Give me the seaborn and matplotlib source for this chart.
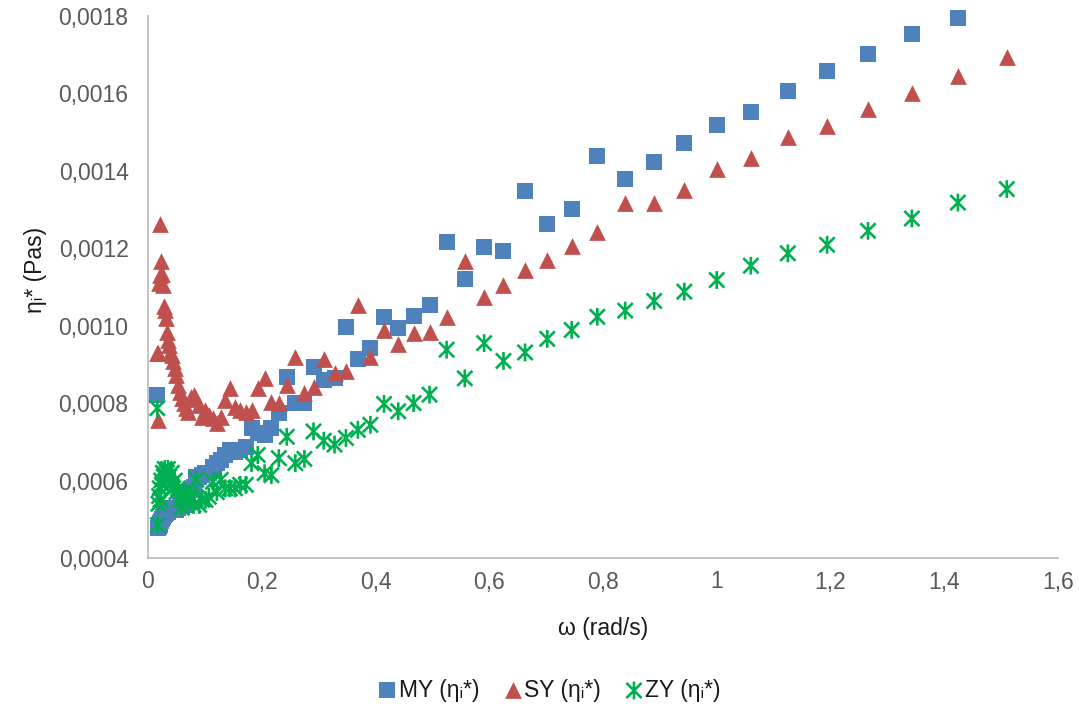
import numpy as np
import pandas as pd
import matplotlib
matplotlib.use("Agg")
import matplotlib.pyplot as plt
from matplotlib.path import Path
from matplotlib.markers import MarkerStyle
import seaborn as sns

# ---------------- data ----------------
omega = [0.0163, 0.0173, 0.0183, 0.0195, 0.0206, 0.0219, 0.0232, 0.0246, 0.0261, 0.0277,
         0.0294, 0.0312, 0.0331, 0.0351, 0.0372, 0.0395, 0.0419, 0.0444, 0.0471, 0.0500,
         0.0530, 0.0562, 0.0596, 0.0632, 0.0671, 0.0711, 0.0755, 0.0800, 0.0849, 0.0900,
         0.0955, 0.101, 0.107, 0.114, 0.121, 0.128, 0.136, 0.144, 0.153, 0.162,
         0.172, 0.182, 0.193, 0.205, 0.217, 0.230, 0.244, 0.259, 0.275, 0.291,
         0.309, 0.328, 0.348, 0.369, 0.391, 0.415, 0.440, 0.467, 0.495, 0.525,
         0.557, 0.591, 0.625, 0.663, 0.702, 0.745, 0.790, 0.839, 0.890, 0.943,
         1.000, 1.060, 1.125, 1.194, 1.266, 1.343, 1.424, 1.510]

my_eta = [0.000821, 0.000477, 0.000477, 0.000481, 0.000485, 0.000490, 0.000495, 0.000500, 0.000507, 0.000510,
          0.000514, 0.000516, 0.000518, 0.000520, 0.000524, 0.000524, 0.000526, 0.000528, 0.000524, 0.000524,
          0.000530, 0.000537, 0.000535, 0.000540, 0.000537, 0.000550, 0.000576, 0.000584, 0.000610, 0.000610,
          0.000614, 0.000619, 0.000619, 0.000636, 0.000645, 0.000653, 0.000666, 0.000679, 0.000675, 0.000679,
          0.000688, 0.000735, 0.000723, 0.000718, 0.000735, 0.000774, 0.000868, 0.000800, 0.000800, 0.000894,
          0.000860, 0.000864, 0.000996, 0.000913, 0.000943, 0.001022, 0.000995, 0.001024, 0.001054, 0.001215,
          0.001121, 0.001204, 0.001193, 0.001348, 0.001264, 0.001302, 0.001439, 0.001379, 0.001424, 0.001471,
          0.001519, 0.001553, 0.001605, 0.001657, 0.001702, 0.001753, 0.001796, np.nan]

sy_eta = [0.000929, 0.000757, 0.000930, 0.001110, 0.001130, 0.001263, 0.001166, 0.001134, 0.001105, 0.001050,
          0.001040, 0.001020, 0.000985, 0.000963, 0.000950, 0.000930, 0.000925, 0.000910, 0.000890, 0.000873,
          0.000847, 0.000830, 0.000813, 0.000800, 0.000787, 0.000778, 0.000817, 0.000821, 0.000810, 0.000795,
          0.000765, 0.000782, 0.000770, 0.000761, 0.000748, 0.000765, 0.000808, 0.000838, 0.000790, 0.000782,
          0.000778, 0.000782, 0.000838, 0.000864, 0.000804, 0.000800, 0.000847, 0.000920, 0.000826, 0.000842,
          0.000914, 0.000877, 0.000882, 0.001054, 0.000919, 0.000989, 0.000954, 0.000981, 0.000983, 0.001022,
          0.001166, 0.001073, 0.001104, 0.001143, 0.001169, 0.001207, 0.001242, 0.001316, 0.001316, 0.001350,
          0.001405, 0.001433, 0.001487, 0.001515, 0.001559, 0.001602, 0.001646, 0.001694]

zy_eta = [0.000787, 0.000485, 0.000540, 0.000560, 0.000580, 0.000550, 0.000600, 0.000590, 0.000620, 0.000610,
          0.000630, 0.000600, 0.000620, 0.000630, 0.000610, 0.000590, 0.000620, 0.000580, 0.000600, 0.000570,
          0.000580, 0.000550, 0.000530, 0.000550, 0.000570, 0.000560, 0.000558, 0.000537, 0.000602, 0.000537,
          0.000550, 0.000550, 0.000558, 0.000597, 0.000570, 0.000602, 0.000580, 0.000580, 0.000580, 0.000589,
          0.000589, 0.000645, 0.000666, 0.000619, 0.000614, 0.000658, 0.000713, 0.000645, 0.000656, 0.000727,
          0.000703, 0.000693, 0.000710, 0.000731, 0.000744, 0.000798, 0.000779, 0.000800, 0.000822, 0.000938,
          0.000864, 0.000955, 0.000909, 0.000931, 0.000966, 0.000989, 0.001023, 0.001039, 0.001064, 0.001088,
          0.001118, 0.001155, 0.001187, 0.001209, 0.001245, 0.001277, 0.001318, 0.001353]

series_names = ["MY (ηᵢ*)", "SY (ηᵢ*)", "ZY (ηᵢ*)"]
x_ticks = [0, 0.2, 0.4, 0.6, 0.8, 1.0, 1.2, 1.4, 1.6]
x_tick_labels = ["0", "0,2", "0,4", "0,6", "0,8", "1", "1,2", "1,4", "1,6"]
y_ticks = [0.0004, 0.0006, 0.0008, 0.0010, 0.0012, 0.0014, 0.0016, 0.0018]
y_tick_labels = ["0,0004", "0,0006", "0,0008", "0,0010", "0,0012", "0,0014", "0,0016", "0,0018"]
x_label = "ω (rad/s)"
y_label = "ηᵢ* (Pas)"

# ---------------- styling ----------------
sns.set_theme(style="white")
plt.rcParams["font.family"] = ["Liberation Sans", "DejaVu Sans"]

colors = ["#4F81BD", "#C0504D", "#00B050"]
star_path = Path([(-0.85, -0.85), (0.85, 0.85), (-0.85, 0.85), (0.85, -0.85), (0, -1), (0, 1)],
                 [Path.MOVETO, Path.LINETO, Path.MOVETO, Path.LINETO, Path.MOVETO, Path.LINETO])
star_marker = MarkerStyle(star_path, fillstyle="none")

fig = plt.figure(figsize=(10.79, 7.13), dpi=100)
ax = fig.add_axes([148 / 1079, 1 - 558 / 713, (1058 - 148) / 1079, (558 - 16) / 713])

df_my = pd.DataFrame({"omega": omega, "eta": my_eta})
df_sy = pd.DataFrame({"omega": omega, "eta": sy_eta})
df_zy = pd.DataFrame({"omega": omega, "eta": zy_eta})

sns.scatterplot(data=df_my, x="omega", y="eta", ax=ax, marker="s", color=colors[0],
                s=125, linewidth=0, label=series_names[0], clip_on=False, zorder=3)
sns.scatterplot(data=df_sy, x="omega", y="eta", ax=ax, marker="^", color=colors[1],
                s=145, linewidth=0, label=series_names[1], clip_on=False, zorder=3)
sns.scatterplot(data=df_zy, x="omega", y="eta", ax=ax, marker=star_marker, color=colors[2],
                s=165, linewidth=1.9, label=series_names[2], clip_on=False, zorder=3)

ax.set_xlim(0, 1.6)
ax.set_ylim(0.0004, 0.0018)
ax.set_xticks(x_ticks)
ax.set_xticklabels(x_tick_labels)
ax.set_yticks(y_ticks)
ax.set_yticklabels(y_tick_labels)
ax.tick_params(axis="both", length=0, labelsize=16.5, colors="#595959")
ax.tick_params(axis="y", pad=14)
ax.tick_params(axis="x", pad=9)

for side in ["top", "right"]:
    ax.spines[side].set_visible(False)
for side in ["left", "bottom"]:
    ax.spines[side].set_color("#BFBFBF")
    ax.spines[side].set_linewidth(1.3)
ax.grid(False)

ax.set_xlabel(x_label, fontsize=16.5, color="#1a1a1a")
ax.set_ylabel(y_label, fontsize=16.5, color="#1a1a1a")
ax.xaxis.set_label_coords((603 - 148) / 910, -(617 - 558) / 542)
ax.yaxis.set_label_coords(-(148 - 47) / 910, (558 - 270) / 542)

handles, labels = ax.get_legend_handles_labels()
ax.legend_.remove()
leg = fig.legend(handles, labels, loc="center", bbox_to_anchor=(549 / 1079, 1 - 690 / 713),
                 ncol=3, frameon=False, fontsize=16.5, handletextpad=0.05, columnspacing=1.0,
                 handlelength=0.9, markerscale=1.0)
for t in leg.get_texts():
    t.set_color("#1a1a1a")

fig.savefig("out.png", dpi=100)
